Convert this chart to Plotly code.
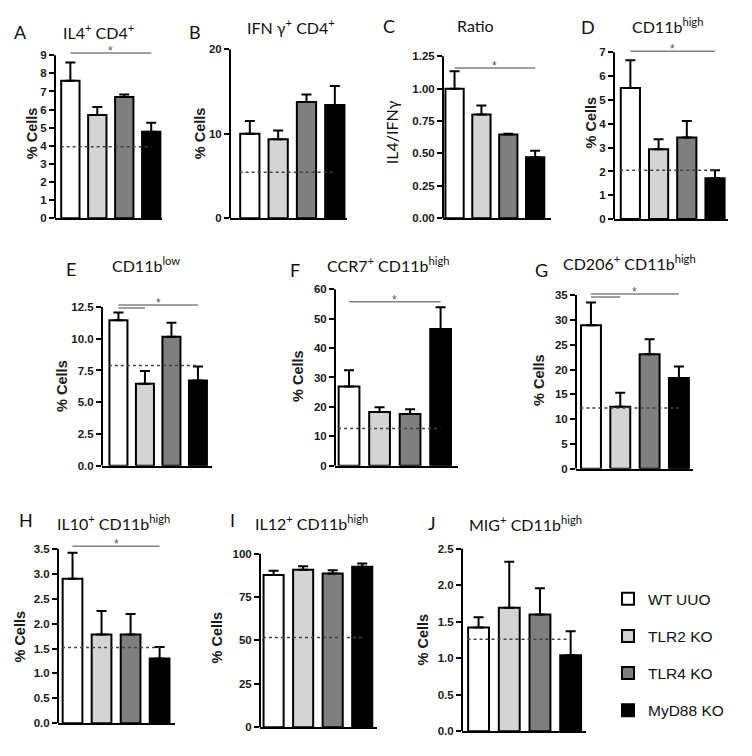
import plotly.graph_objects as go

W, H = 752, 756

# ---------------- data ----------------
groups = ["WT UUO", "TLR2 KO", "TLR4 KO", "MyD88 KO"]
group_colors = ["#ffffff", "#d4d4d4", "#7f7f7f", "#000000"]

panel_letters = ["A", "B", "C", "D", "E", "F", "G", "H", "I", "J"]
panel_titles = [
    "IL4<sup>+</sup> CD4<sup>+</sup>",
    "IFN γ<sup>+</sup> CD4<sup>+</sup>",
    "Ratio",
    "CD11b<sup>high</sup>",
    "CD11b<sup>low</sup>",
    "CCR7<sup>+</sup> CD11b<sup>high</sup>",
    "CD206<sup>+</sup> CD11b<sup>high</sup>",
    "IL10<sup>+</sup> CD11b<sup>high</sup>",
    "IL12<sup>+</sup> CD11b<sup>high</sup>",
    "MIG<sup>+</sup> CD11b<sup>high</sup>",
]
y_titles = ["% Cells", "% Cells", "IL4/IFNγ", "% Cells", "% Cells",
            "% Cells", "% Cells", "% Cells", "% Cells", "% Cells"]

il4_cd4_mean = [7.6, 5.7, 6.7, 4.77]
il4_cd4_err = [1.0, 0.44, 0.13, 0.5]
ifng_cd4_mean = [10.0, 9.35, 13.75, 13.4]
ifng_cd4_err = [1.5, 1.05, 0.9, 2.25]
ratio_mean = [1.0, 0.80, 0.645, 0.47]
ratio_err = [0.135, 0.07, 0.006, 0.05]
cd11bhigh_mean = [5.5, 2.93, 3.43, 1.72]
cd11bhigh_err = [1.17, 0.42, 0.69, 0.33]
cd11blow_mean = [11.45, 6.45, 10.15, 6.72]
cd11blow_err = [0.62, 1.0, 1.1, 1.1]
ccr7_mean = [26.9, 18.3, 17.6, 46.5]
ccr7_err = [5.6, 1.6, 1.6, 7.4]
cd206_mean = [28.9, 12.5, 23.1, 18.3]
cd206_err = [4.6, 2.8, 3.0, 2.3]
il10_mean = [2.9, 1.78, 1.78, 1.3]
il10_err = [0.52, 0.47, 0.41, 0.23]
il12_mean = [87.7, 90.7, 88.6, 92.4]
il12_err = [2.4, 2.1, 1.9, 1.9]
mig_mean = [1.42, 1.69, 1.6, 1.04]
mig_err = [0.14, 0.63, 0.36, 0.33]

# dotted reference level (healthy control) per panel; None = no line
baseline_levels = [3.95, 5.45, None, 2.05, 7.9, 12.7, 12.25, 1.52, 51.7, 1.26]

# y tick values per panel
ticks_A = [0, 1, 2, 3, 4, 5, 6, 7, 8, 9]
ticks_B = [0, 10, 20]
ticks_C = [0, 0.25, 0.5, 0.75, 1.0, 1.25]
ticks_D = [0, 1, 2, 3, 4, 5, 6, 7]
ticks_E = [0, 2.5, 5.0, 7.5, 10.0, 12.5]
ticks_F = [0, 10, 20, 30, 40, 50, 60]
ticks_G = [0, 5, 10, 15, 20, 25, 30, 35]
ticks_H = [0, 0.5, 1.0, 1.5, 2.0, 2.5, 3.0, 3.5]
ticks_I = [0, 25, 50, 75, 100]
ticks_J = [0, 0.5, 1.0, 1.5, 2.0, 2.5]
tick_decimals = [0, 0, 2, 0, 1, 0, 0, 1, 0, 1]

# significance brackets: (panel index, from group, to group, level, star)
sig_panel = [0, 2, 3, 4, 4, 5, 6, 6, 7]
sig_from = [0, 0, 0, 0, 0, 0, 0, 0, 0]
sig_to = [3, 3, 3, 3, 1, 3, 3, 1, 3]
sig_level = [9.13, 1.16, 7.05, 12.66, 12.42, 55.7, 35.2, 34.6, 3.55]
sig_star = [True, True, True, True, False, True, True, False, True]

means = [il4_cd4_mean, ifng_cd4_mean, ratio_mean, cd11bhigh_mean, cd11blow_mean,
         ccr7_mean, cd206_mean, il10_mean, il12_mean, mig_mean]
errs = [il4_cd4_err, ifng_cd4_err, ratio_err, cd11bhigh_err, cd11blow_err,
        ccr7_err, cd206_err, il10_err, il12_err, mig_err]
ticks = [ticks_A, ticks_B, ticks_C, ticks_D, ticks_E, ticks_F, ticks_G,
         ticks_H, ticks_I, ticks_J]

# ---------------- layout geometry (pixels) ----------------
# x_left, x_right, y of zero, y of top tick
panel_geom = [
    (55, 162, 217, 52), (230, 347, 217, 46), (443, 551, 217, 53), (614, 728, 218, 49),
    (102, 212, 468, 307), (335, 458, 468, 289), (576, 693, 471, 295),
    (58, 175, 729, 552), (260, 377, 733, 557), (462, 586, 737, 552),
]
x_ranges = [(-0.57, 3.40), (-0.70, 3.43), (-0.43, 3.59), (-0.58, 3.46),
            (-0.62, 3.53), (-0.46, 3.57), (-0.51, 3.48),
            (-0.50, 3.53), (-0.46, 3.50), (-0.54, 3.50)]
letter_pos = [(20, 28), (195, 28), (389, 22), (588, 23), (71, 269), (295, 270),
              (541, 270), (26, 523), (232, 523), (432, 526)]
title_pos = [(99, 28), (291, 23), (475, 22), (667, 22), (146, 264), (388, 264),
             (629, 262), (113, 525), (311, 525), (525, 526)]
ytitle_pos = [(32, 131), (200, 131), (391, 130), (591, 120), (62, 387), (298, 377),
              (539, 381), (20, 641), (217, 642), (423, 644)]

BAR_W = 0.68

fig = go.Figure()
shapes = []
annotations = []
layout_axes = {}

for k in range(10):
    xa = "x" if k == 0 else f"x{k+1}"
    ya = "y" if k == 0 else f"y{k+1}"
    x0, x1, yz, yt = panel_geom[k]
    top_tick = ticks[k][-1]
    sig_here = [sig_level[j] for j in range(len(sig_panel)) if sig_panel[j] == k]
    rtop = max([top_tick] + sig_here) * 1.015
    ytop_px = yz - (yz - yt) * rtop / top_tick

    for g in range(4):
        fig.add_trace(go.Bar(
            x=[g], y=[means[k][g]], width=BAR_W,
            name=groups[g], legendgroup=groups[g], showlegend=(k == 0),
            marker=dict(color=group_colors[g], line=dict(color="black", width=2)),
            error_y=dict(type="data", array=[errs[k][g]], arrayminus=[0],
                         symmetric=False, color="black", thickness=2, width=5),
            xaxis=xa, yaxis=ya,
        ))

    d = tick_decimals[k]
    layout_axes["xaxis" if k == 0 else f"xaxis{k+1}"] = dict(
        domain=[x0 / W, x1 / W], range=list(x_ranges[k]), anchor=ya,
        showline=True, linewidth=2, linecolor="black", showticklabels=False,
        ticks="", showgrid=False, zeroline=False, fixedrange=True,
    )
    layout_axes["yaxis" if k == 0 else f"yaxis{k+1}"] = dict(
        domain=[1 - yz / H, 1 - ytop_px / H], range=[0, rtop], anchor=xa,
        showline=False, ticks="outside", ticklen=5, tickwidth=2, tickcolor="black",
        tickvals=ticks[k], ticktext=[f"{v:.{d}f}" for v in ticks[k]],
        tickfont=dict(family="Liberation Sans, Arial", size=11.5, color="#1a1a1a",
                      weight="bold"),
        showgrid=False, zeroline=False, fixedrange=True,
    )
    # y-axis spine up to the top tick
    shapes.append(dict(type="line", xref=f"{xa} domain", yref=ya, x0=0, x1=0,
                       y0=0, y1=top_tick, line=dict(color="black", width=2),
                       layer="above"))
    # dotted reference level
    if baseline_levels[k] is not None:
        shapes.append(dict(type="line", xref=xa, yref=ya, x0=-0.36, x1=3.0,
                           y0=baseline_levels[k], y1=baseline_levels[k],
                           line=dict(color="#444444", width=1.5, dash="dot"),
                           layer="above"))
    # text
    lx, ly = letter_pos[k]
    annotations.append(dict(text=panel_letters[k], x=lx / W, y=1 - ly / H,
                            xref="paper", yref="paper", showarrow=False,
                            xanchor="center", yanchor="middle",
                            font=dict(family="Lato, Noto Sans", size=18, color="#111")))
    tx, ty = title_pos[k]
    annotations.append(dict(text=panel_titles[k], x=tx / W, y=1 - ty / H,
                            xref="paper", yref="paper", showarrow=False,
                            xanchor="center", yanchor="middle",
                            font=dict(family="Lato, Noto Sans", size=16, color="#111")))
    yx, yy = ytitle_pos[k]
    if k == 2:
        tfont = dict(family="Lato, Noto Sans", size=16, color="#111")
    else:
        tfont = dict(family="Liberation Sans, Arial", size=14.5, color="#1a1a1a",
                     weight="bold")
    annotations.append(dict(text=y_titles[k], x=yx / W, y=1 - yy / H,
                            xref="paper", yref="paper", showarrow=False,
                            textangle=-90, xanchor="center", yanchor="middle",
                            font=tfont))

# significance brackets
for j in range(len(sig_panel)):
    k = sig_panel[j]
    xa = "x" if k == 0 else f"x{k+1}"
    ya = "y" if k == 0 else f"y{k+1}"
    shapes.append(dict(type="line", xref=xa, yref=ya, x0=sig_from[j], x1=sig_to[j],
                       y0=sig_level[j], y1=sig_level[j],
                       line=dict(color="#808080", width=1.5), layer="above"))
    if sig_star[j]:
        annotations.append(dict(text="*", xref=xa, yref=ya,
                                x=(sig_from[j] + sig_to[j]) / 2, y=sig_level[j],
                                showarrow=False, xanchor="center", yanchor="middle",
                                yshift=2,
                                font=dict(family="Liberation Sans, Arial", size=12,
                                          color="#555555")))

fig.update_layout(
    width=W, height=H, autosize=False,
    margin=dict(l=0, r=0, t=0, b=0),
    paper_bgcolor="white", plot_bgcolor="white",
    barmode="overlay",
    shapes=shapes, annotations=annotations,
    legend=dict(x=608 / W, y=1 - 586 / H, xanchor="left", yanchor="top",
                font=dict(family="Liberation Sans, Arial", size=15.5, color="#111"),
                tracegroupgap=14, bgcolor="rgba(0,0,0,0)"),
    **layout_axes,
)

fig.write_html(
    "out.html",
    config={"displayModeBar": False},
    post_script="document.body.style.margin='0';document.body.style.overflow='hidden';",
)
